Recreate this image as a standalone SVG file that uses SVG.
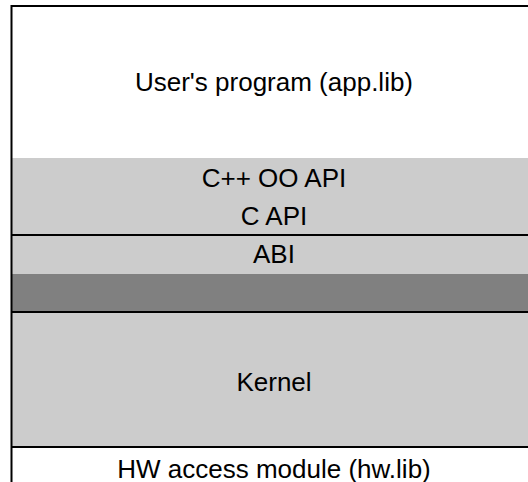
<svg xmlns="http://www.w3.org/2000/svg" width="528" height="482" viewBox="0 0 528 482">
<style>
.lbl{font-family:"Liberation Sans",Arial,sans-serif;font-size:26px;fill:#000;text-anchor:middle}
.ln{stroke:#000;stroke-width:2;fill:none}
</style>
<rect x="0" y="0" width="528" height="482" fill="#fff"/>
<g id="user"><rect x="12" y="6" width="516" height="152" fill="#fff"/><text class="lbl" x="274" y="91">User's program (app.lib)</text></g>
<g id="api"><rect x="12" y="158" width="516" height="77" fill="#ccc"/><text class="lbl" x="274" y="187">C++ OO API</text><text class="lbl" x="274" y="225">C API</text></g>
<g id="abi"><rect x="12" y="235" width="516" height="39" fill="#ccc"/><text class="lbl" x="274" y="263">ABI</text></g>
<g id="dark"><rect x="12" y="274" width="516" height="38" fill="#808080"/></g>
<g id="kernel"><rect x="12" y="312" width="516" height="135" fill="#ccc"/><text class="lbl" x="274" y="391">Kernel</text></g>
<g id="hw"><rect x="12" y="447" width="516" height="35" fill="#fff"/><text class="lbl" x="274" y="478">HW access module (hw.lib)</text></g>
<g id="connectors">
<path class="ln" d="M11.5,482 V6 H528"/>
<path class="ln" d="M12,235 H528 M12,312 H528 M12,447 H528" stroke-width="1.5"/>
</g>
</svg>
